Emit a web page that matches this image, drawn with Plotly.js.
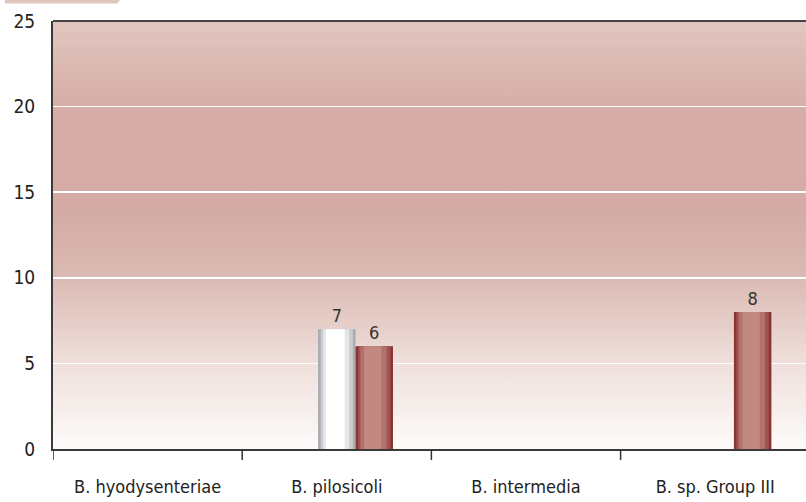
<!DOCTYPE html>
<html>
<head>
<meta charset="utf-8">
<script src="https://cdn.plot.ly/plotly-3.0.1.min.js"></script>
<style>
html,body{margin:0;padding:0;overflow:hidden;background:#fff;}
#chart{width:806px;height:502px;}
</style>
</head>
<body>
<div id="chart"></div>
<script>
// ---- data ----
const categories = ["B. hyodysenteriae", "B. pilosicoli", "B. intermedia", "B. sp. Group III"];
const seriesGrey = [null, 7, null, null];
const seriesRed  = [null, 6, null, 8];
const yTicks = [0, 5, 10, 15, 20, 25];

// ---- styling ----
const FONT = '"DejaVu Sans Condensed", "Liberation Sans Narrow", sans-serif';
const slotW = 0.198;
// layers: [width fraction, center shift (fraction of slot), color]
const greyLayers = [[1.0, 0, '#a9adb2'], [0.86, 0, '#c9ccd0'], [0.70, -0.02, '#e4e6e8'], [0.50, -0.04, '#ffffff']];
const redLayers  = [[1.0, 0, '#8a3434'], [0.86, 0, '#a05452'], [0.70, -0.02, '#b4726e'], [0.46, -0.04, '#c28882']];

function layeredTraces(values, center, layers, withText) {
  return layers.map((l, i) => {
    const w = slotW * l[0];
    return {
      type: 'bar',
      x: categories.map((c, k) => k),
      y: values,
      width: w,
      offset: center + l[1] * slotW - w / 2,
      marker: {color: l[2], line: {width: 0}},
      text: (withText && i === 0) ? values.map(v => v == null ? '' : String(v)) : undefined,
      textposition: (withText && i === 0) ? 'outside' : 'none',
      textfont: {family: FONT, size: 18, color: '#333333'},
      cliponaxis: false,
      hoverinfo: 'skip',
      showlegend: false
    };
  });
}

const traces = [].concat(
  layeredTraces(seriesGrey, 0, greyLayers, true),
  layeredTraces(seriesRed, slotW, redLayers, true)
);

const bgSvg = '<svg xmlns="http://www.w3.org/2000/svg" width="100" height="100" preserveAspectRatio="none">' +
  '<defs><linearGradient id="g" x1="0" y1="0" x2="0" y2="1">' +
  '<stop offset="0" stop-color="#e2c6c0"/>' +
  '<stop offset="0.2" stop-color="#d6aea7"/>' +
  '<stop offset="0.45" stop-color="#d4aca5"/>' +
  '<stop offset="0.6" stop-color="#dbbab4"/>' +
  '<stop offset="0.8" stop-color="#efdfdb"/>' +
  '<stop offset="1" stop-color="#fdfbfa"/>' +
  '</linearGradient></defs><rect width="100" height="100" fill="url(#g)"/></svg>';
const bgUri = 'data:image/svg+xml;base64,' + btoa(bgSvg);

// margins in pixels
const mL = 53, mR = 0, mT = 21, mB = 53;
const pw = 806 - mL - mR, ph = 502 - mT - mB;
const px = v => (v - mL) / pw;
const py = v => (502 - mB - v) / ph;

const layout = {
  width: 806, height: 502,
  margin: {l: mL, r: mR, t: mT, b: mB, pad: 0},
  paper_bgcolor: '#ffffff',
  plot_bgcolor: 'rgba(0,0,0,0)',
  barmode: 'overlay',
  showlegend: false,
  font: {family: FONT, color: '#222222'},
  xaxis: {
    type: 'linear',
    range: [-0.5, 3.48],
    tickmode: 'array',
    tickvals: categories.map((c, k) => k),
    ticktext: categories,
    showgrid: false,
    zeroline: false,
    showline: true, linecolor: '#3a3a3a', linewidth: 2,
    ticks: '',
    tickfont: {family: FONT, size: 18, color: '#222222'},
    ticklabelstandoff: 20
  },
  yaxis: {
    range: [0, 25],
    tickmode: 'array',
    tickvals: yTicks,
    ticktext: yTicks.map(String),
    showgrid: true, gridcolor: '#ffffff', gridwidth: 1.5,
    zeroline: false,
    showline: true, linecolor: '#3a3a3a', linewidth: 2,
    ticks: '',
    tickfont: {family: FONT, size: 19, color: '#222222'},
    ticklabelstandoff: 12
  },
  images: [{
    source: bgUri, xref: 'paper', yref: 'paper', x: 0, y: 1, sizex: 1, sizey: 1,
    sizing: 'stretch', xanchor: 'left', yanchor: 'top', layer: 'below'
  }],
  shapes: [
    {type: 'line', xref: 'paper', yref: 'paper', x0: 0, x1: 1, y0: 1, y1: 1, line: {color: '#444444', width: 2}},
    ...[-0.5, 0.5, 1.5, 2.5].map(b => ({type: 'line', xref: 'x', yref: 'paper', x0: b, x1: b, y0: 0, y1: py(460), line: {color: '#333333', width: 1.5}})),
    {type: 'path', xref: 'paper', yref: 'paper', layer: 'above',
     path: `M ${px(5)} ${py(0)} L ${px(120)} ${py(0)} L ${px(117)} ${py(3.5)} L ${px(5)} ${py(3.5)} Z`,
     fillcolor: '#e2c4be', line: {width: 0}}
  ]
};

Plotly.newPlot('chart', traces, layout, {displayModeBar: false, staticPlot: true});
</script>
</body>
</html>
